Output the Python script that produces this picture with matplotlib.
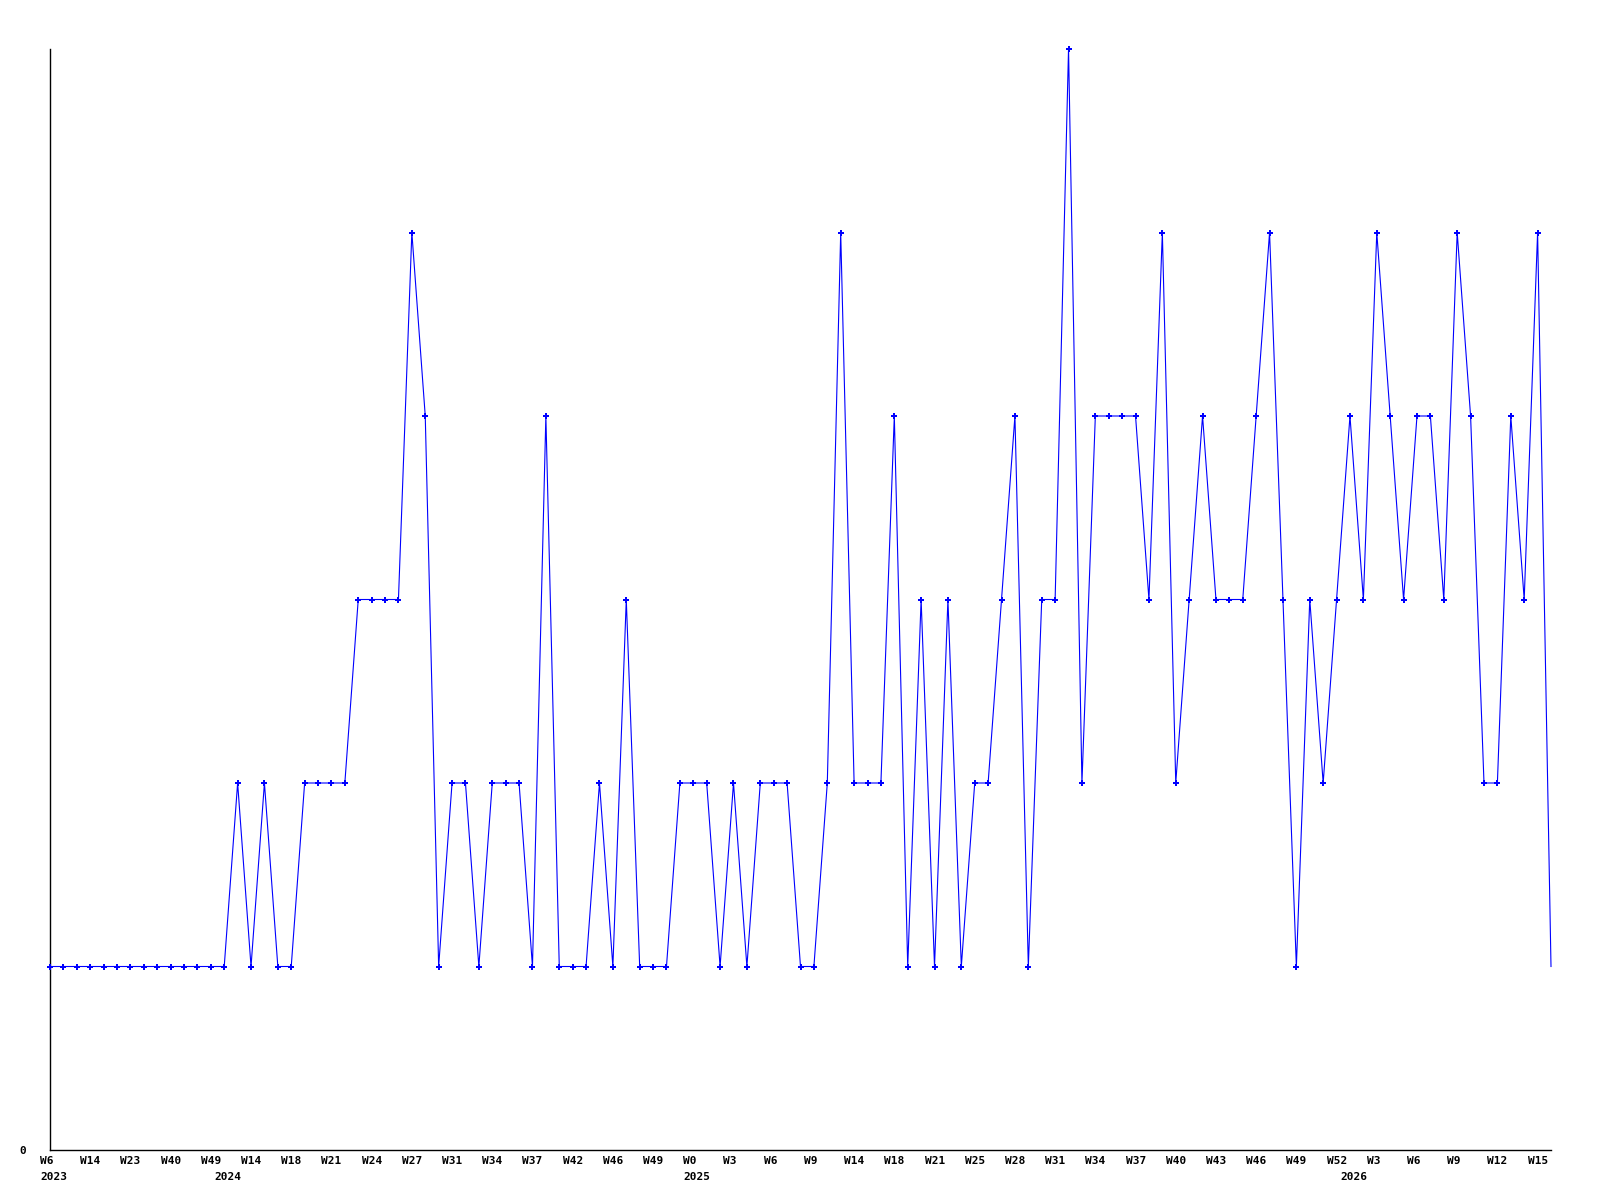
import matplotlib
matplotlib.use("Agg")
import matplotlib.pyplot as plt
from matplotlib.transforms import blended_transform_factory, offset_copy

values = [1, 1, 1, 1, 1, 1, 1, 1, 1, 1, 1, 1, 1, 1,
          2, 1, 2, 1, 1, 2, 2, 2, 2, 3, 3, 3, 3, 5, 4, 1,
          2, 2, 1, 2, 2, 2, 1, 4, 1, 1, 1, 2, 1, 3, 1, 1,
          1, 2, 2, 2, 1, 2, 1, 2, 2, 2, 1, 1, 2, 5, 2, 2,
          2, 4, 1, 3, 1, 3, 1, 2, 2, 3, 4, 1, 3, 3, 6, 2,
          4, 4, 4, 4, 3, 5, 2, 3, 4, 3, 3, 3, 4, 5, 3, 1,
          3, 2, 3, 4, 3, 5, 4, 3, 4, 4, 3, 5, 4, 2, 2, 4,
          3, 5, 1]

week_labels = ["W6", "W14", "W23", "W40", "W49", "W14", "W18", "W21", "W24",
               "W27", "W31", "W34", "W37", "W42", "W46", "W49", "W0", "W3",
               "W6", "W9", "W14", "W18", "W21", "W25", "W28", "W31", "W34",
               "W37", "W40", "W43", "W46", "W49", "W52", "W3", "W6", "W9",
               "W12", "W15"]
week_label_step = 3

year_labels = ["2023", "2024", "2025", "2026"]
year_positions = [0, 13, 48, 97]

W, H = 1600, 1200
fig = plt.figure(figsize=(16, 12), dpi=100)
ax = fig.add_axes([50 / W, 1 - 1150 / H, 1501 / W, (1150 - 49) / H])

x = list(range(len(values)))
ax.plot(x, values, color="#0000ff", linewidth=0.8, marker="P",
        markersize=4, markeredgewidth=0, markevery=list(range(len(values) - 1)),
        clip_on=False, zorder=3)

ax.set_xlim(0, len(values) - 1)
ax.set_ylim(0, 6)
for s in ["top", "right"]:
    ax.spines[s].set_visible(False)
for s in ["left", "bottom"]:
    ax.spines[s].set_linewidth(1.0)
    ax.spines[s].set_color("black")

font = dict(family="DejaVu Sans Mono", fontweight="bold", fontsize=8)

ax.set_xticks([])
ax.set_yticks([0])
ax.set_yticklabels(["0"], **font)
ax.tick_params(axis="y", length=0, pad=17)

trans = blended_transform_factory(ax.transData, fig.transFigure)
trans_off = offset_copy(trans, fig=fig, x=-10, y=0, units="dots")

for k, lab in enumerate(week_labels):
    ax.text(k * week_label_step, 1 - 1161 / H, lab, transform=trans_off,
            ha="left", va="center", clip_on=False, **font)

for pos, lab in zip(year_positions, year_labels):
    ax.text(pos, 1 - 1177 / H, lab, transform=trans_off,
            ha="left", va="center", clip_on=False, **font)

fig.savefig("out.png", dpi=100, facecolor="white")
